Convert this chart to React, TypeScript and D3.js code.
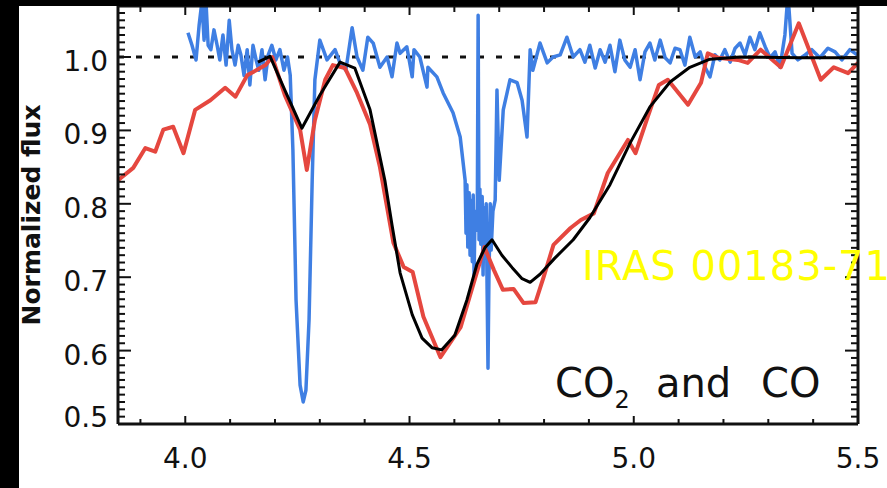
import React from "react";
import * as d3 from "d3";

// Observed spectrum (blue)
const blueWave = [
  4.006, 4.015, 4.024, 4.031, 4.037, 4.042, 4.046, 4.051, 4.057, 4.064, 4.071, 4.077, 4.084, 4.091, 4.098, 4.104,
  4.111, 4.118, 4.124, 4.131, 4.138, 4.144, 4.151, 4.158, 4.164, 4.171, 4.178, 4.185, 4.193, 4.202, 4.211, 4.220,
  4.228, 4.234, 4.240, 4.247, 4.256, 4.263, 4.269, 4.276, 4.283, 4.289, 4.300, 4.316, 4.334, 4.345, 4.358, 4.372,
  4.383, 4.396, 4.407, 4.419, 4.434, 4.450, 4.461, 4.472, 4.479, 4.494, 4.506, 4.510, 4.523, 4.539, 4.541, 4.561,
  4.575, 4.597, 4.613, 4.624, 4.626, 4.628, 4.630, 4.633, 4.635, 4.637, 4.640, 4.642, 4.644, 4.646, 4.651, 4.653,
  4.655, 4.657, 4.659, 4.662, 4.664, 4.666, 4.668, 4.671, 4.673, 4.675, 4.677, 4.680, 4.682, 4.686, 4.691, 4.695,
  4.700, 4.709, 4.724, 4.740, 4.751, 4.762, 4.769, 4.775, 4.791, 4.807,
  4.820, 4.836, 4.851, 4.865, 4.880, 4.891, 4.902, 4.914, 4.925, 4.936, 4.947, 4.958, 4.969, 4.980, 4.992, 5.003,
  5.014, 5.025, 5.036, 5.047, 5.059, 5.070, 5.081, 5.092, 5.103, 5.114, 5.125, 5.137, 5.148, 5.159, 5.170, 5.181,
  5.192, 5.203, 5.215, 5.226, 5.237, 5.248, 5.259, 5.270, 5.281, 5.293, 5.304, 5.315, 5.326, 5.337, 5.342, 5.346,
  5.353, 5.366, 5.382, 5.397, 5.415, 5.433, 5.449, 5.464, 5.482, 5.498,
];
const blueFlux = [
  1.033, 1.016, 0.996, 1.044, 1.075, 1.023, 1.078, 1.016, 1.010, 1.037, 1.016, 0.996, 1.030, 0.989, 1.050, 1.010,
  0.989, 1.016, 1.003, 0.975, 1.010, 0.962, 1.016, 0.996, 0.982, 1.010, 0.969, 1.003, 1.016, 0.996, 1.010, 0.982,
  1.000, 0.975, 0.873, 0.669, 0.553, 0.530, 0.546, 0.642, 0.832, 0.969, 1.023, 0.996, 1.010, 0.992, 0.982, 1.040,
  1.000, 0.982, 1.027, 1.019, 0.986, 1.000, 0.973, 1.019, 1.005, 1.014, 0.973, 1.010, 1.000, 0.959, 0.986, 0.973,
  0.951, 0.924, 0.891, 0.832, 0.760, 0.826, 0.741, 0.815, 0.730, 0.805, 0.721, 0.812, 0.700, 0.790, 0.764, 1.057,
  0.751, 0.820, 0.745, 0.810, 0.703, 0.795, 0.740, 0.800, 0.683, 0.576, 0.696, 0.800, 0.737, 0.790, 0.805, 0.955,
  0.832, 0.928, 0.969, 0.965, 0.941, 0.891, 1.010, 0.982, 1.019, 0.992,
  1.000, 1.003, 1.027, 1.000, 1.010, 0.993, 1.016, 0.985, 1.010, 0.993, 1.016, 0.980, 1.023, 0.996, 0.986, 1.010,
  0.969, 1.007, 1.019, 0.996, 1.023, 0.999, 0.992, 1.012, 1.010, 0.989, 1.027, 1.000, 1.007, 0.986, 0.973, 1.003,
  0.996, 1.010, 0.993, 1.012, 1.019, 1.003, 1.027, 1.010, 1.033, 1.014, 0.999, 1.007, 0.986, 1.030, 1.071, 1.067,
  1.005, 0.996, 1.003, 1.010, 0.999, 1.012, 1.007, 0.996, 1.010, 1.003,
];

// Model (black)
const blackWave = [
  4.162, 4.189, 4.222, 4.260, 4.300, 4.345, 4.378, 4.412, 4.445, 4.461, 4.479, 4.506, 4.528, 4.550, 4.572, 4.601,
  4.628, 4.650, 4.668, 4.684, 4.706, 4.729, 4.751, 4.769, 4.791, 4.824, 4.865, 4.902, 4.947, 4.992, 5.036, 5.081,
  5.125, 5.170, 5.237, 5.371, 5.500,
];
const blackFlux = [
  0.993, 1.001, 0.955, 0.903, 0.948, 0.993, 0.985, 0.928, 0.832, 0.771, 0.706, 0.649, 0.617, 0.604, 0.601, 0.621,
  0.669, 0.717, 0.740, 0.751, 0.730, 0.713, 0.698, 0.693, 0.704, 0.726, 0.751, 0.781, 0.826, 0.883, 0.932, 0.966,
  0.986, 0.997, 1.000, 0.999, 0.999,
];

// Comparison spectrum (red)
const redWave = [
  3.850, 3.884, 3.911, 3.933, 3.951, 3.973, 3.996, 4.022, 4.056, 4.089, 4.112, 4.138, 4.179, 4.194, 4.222, 4.256,
  4.271, 4.289, 4.312, 4.329, 4.356, 4.383, 4.412, 4.434, 4.464, 4.487, 4.507, 4.531, 4.569, 4.614, 4.643, 4.667,
  4.688, 4.708, 4.732, 4.754, 4.781, 4.799, 4.821, 4.859, 4.882, 4.911, 4.942, 4.987, 5.004, 5.031, 5.056, 5.076,
  5.121, 5.150, 5.165, 5.188, 5.232, 5.254, 5.283, 5.328, 5.368, 5.417, 5.446, 5.478, 5.500,
];
const redFlux = [
  0.832, 0.849, 0.876, 0.871, 0.901, 0.905, 0.869, 0.928, 0.941, 0.958, 0.946, 0.975, 0.989, 1.000, 0.948, 0.901,
  0.846, 0.914, 0.969, 0.989, 0.985, 0.951, 0.908, 0.850, 0.747, 0.714, 0.707, 0.646, 0.591, 0.632, 0.692, 0.741,
  0.710, 0.683, 0.684, 0.665, 0.666, 0.700, 0.744, 0.767, 0.778, 0.787, 0.842, 0.887, 0.869, 0.918, 0.962, 0.969,
  0.935, 0.965, 1.005, 0.999, 0.996, 0.992, 1.010, 0.986, 1.046, 0.969, 0.986, 0.978, 0.992,
];

const yTickLabels = [0.5, 0.6, 0.7, 0.8, 0.9, 1.0];
const xTickLabels = [4.0, 4.5, 5.0, 5.5];
const continuumLevel = 1.0;

export default function App() {
  const W = 887;
  const H = 488;
  const x = d3.scaleLinear().domain([3.85, 5.5]).range([118, 858]);
  const y = d3.scaleLinear().domain([0.5, 1.0695]).range([424, 6]);
  const [x0, x1] = x.range();
  const [yb, yt] = y.range();
  const line = d3
    .line<[number, number]>()
    .x((d) => x(d[0]))
    .y((d) => y(d[1]));
  const zip = (a: number[], b: number[]) => a.map((v, i) => [v, b[i]] as [number, number]);

  const yMinor = d3.range(50, 107).map((i) => ({ v: i / 100, major: i % 10 === 0 }));
  const xMinor = d3.range(39, 56).map((i) => ({ v: i / 10, major: i % 5 === 0 }));
  const fmt = d3.format(".1f");
  const tickFont = "'DejaVu Sans', sans-serif";

  return (
    <svg width={W} height={H} style={{ position: "absolute", left: 0, top: 0, background: "#fff" }}>
      <defs>
        <clipPath id="plotclip">
          <rect x={x0} y={yt} width={x1 - x0} height={yb - yt} />
        </clipPath>
      </defs>
      <rect x={0} y={0} width={W} height={H} fill="#fff" />

      {/* continuum dotted line */}
      <line
        x1={x0}
        x2={x1}
        y1={y(continuumLevel)}
        y2={y(continuumLevel)}
        stroke="#111"
        strokeWidth={3}
        strokeDasharray="6 12"
      />

      <g clipPath="url(#plotclip)" fill="none" strokeLinejoin="round">
        <path d={line(zip(blueWave, blueFlux)) || ""} stroke="#3f7fe3" strokeWidth={3.5} />
        <path d={line(zip(redWave, redFlux)) || ""} stroke="#e5473f" strokeWidth={4} />
        <path d={line(zip(blackWave, blackFlux)) || ""} stroke="#000" strokeWidth={3} />
      </g>

      {/* axes frame */}
      <g stroke="#111" strokeWidth={3} fill="none">
        <line x1={x0} x2={x0} y1={yt} y2={yb} />
        <line x1={x1} x2={x1} y1={yt} y2={yb} />
        <line x1={x0} x2={x1} y1={yb} y2={yb} />
        <line x1={x0} x2={x1} y1={yt} y2={yt} />
      </g>
      <g stroke="#111" strokeWidth={2}>
        {yMinor.map((t) => (
          <g key={"y" + t.v}>
            <line x1={x0} x2={x0 + (t.major ? 13 : 7)} y1={y(t.v)} y2={y(t.v)} />
            <line x1={x1} x2={x1 - (t.major ? 13 : 7)} y1={y(t.v)} y2={y(t.v)} />
          </g>
        ))}
        {xMinor.map((t) => (
          <g key={"x" + t.v}>
            <line x1={x(t.v)} x2={x(t.v)} y1={yb} y2={yb - (t.major ? 8 : 5)} />
            <line x1={x(t.v)} x2={x(t.v)} y1={yt} y2={yt + (t.major ? 9 : 6)} />
          </g>
        ))}
      </g>

      {/* tick labels */}
      <g fontFamily={tickFont} fontSize={28} fill="#111">
        {yTickLabels.map((v) => (
          <text key={"yl" + v} x={108} y={Math.min(y(v) + 14, yb + 3)} textAnchor="end">
            {fmt(v)}
          </text>
        ))}
        {xTickLabels.map((v) => (
          <text key={"xl" + v} x={x(v)} y={468} textAnchor="middle">
            {fmt(v)}
          </text>
        ))}
      </g>

      {/* y title */}
      <text
        transform="translate(40,215) rotate(-90)"
        textAnchor="middle"
        fontFamily={tickFont}
        fontWeight="bold"
        fontSize={25}
        fill="#111"
      >
        Normalized flux
      </text>

      {/* annotation */}
      <text fontFamily={tickFont} fontSize={40} fill="#111" y={397}>
        <tspan x={555}>CO</tspan>
        <tspan fontSize={24} dy={11}>2</tspan>
        <tspan x={656} dy={-11}>and</tspan>
        <tspan x={761}>CO</tspan>
      </text>

      <text x={582} y={280} fontFamily={tickFont} fontSize={40} letterSpacing={1} fill="#ffff00">
        IRAS 00183-71
      </text>

      {/* black borders of the original image */}
      <rect x={0} y={0} width={W} height={6} fill="#000" />
      <rect x={0} y={0} width={19} height={H} fill="#000" />
    </svg>
  );
}
